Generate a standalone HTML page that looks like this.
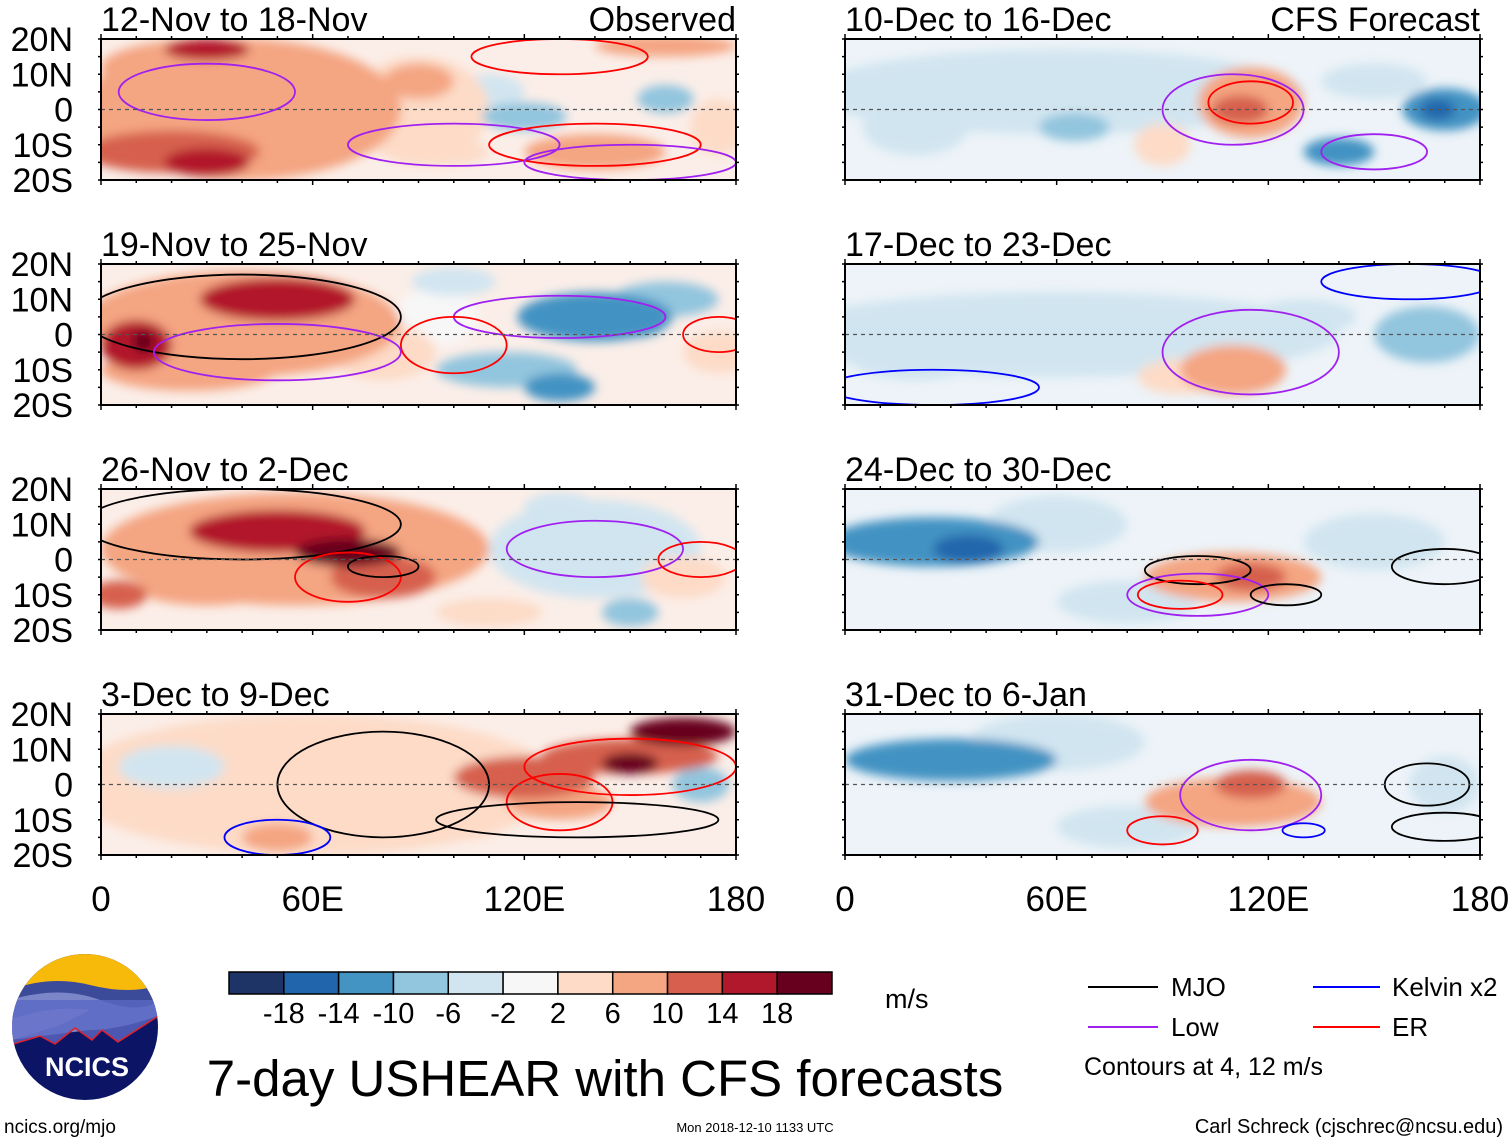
<!DOCTYPE html>
<html><head><meta charset="utf-8">
<style>
body{margin:0;background:#fff;}
svg{display:block;font-family:"Liberation Sans",sans-serif;}
</style></head>
<body>
<svg id="chart" width="1510" height="1142" viewBox="0 0 1510 1142" xmlns="http://www.w3.org/2000/svg">
<defs>
<filter id="blur" x="-20%" y="-50%" width="140%" height="200%"><feGaussianBlur stdDeviation="5"/></filter>
<clipPath id="cp0"><rect x="0" y="0" width="635" height="141"/></clipPath>
</defs>
<g id="panels"></g>
<g id="legend-area">
  <g>
    <clipPath id="logoclip"><circle cx="85" cy="1027" r="73"/></clipPath>
    <g clip-path="url(#logoclip)">
      <rect x="10" y="950" width="150" height="160" fill="#0c1466"/>
      <rect x="10" y="950" width="150" height="45" fill="#f7b90a"/>
      <path d="M10 990 Q50 975 90 985 T160 985 L160 1010 L10 1010Z" fill="#3c4a9a"/>
      <path d="M10 1000 Q60 985 100 1000 T160 1000 L160 1015 Q120 1030 90 1030 L10 1040Z" fill="#7b86c9"/>
      <path d="M10 1020 Q50 1005 90 1010 L60 1025 Q30 1035 10 1040Z" fill="#a9b1e0"/>
      <path d="M10 1045 L40 1035 L55 1044 L75 1028 L92 1040 L102 1030 L118 1042 L160 1015 L160 1000 L10 1000Z" fill="#5b68c4" opacity="0.8"/>
      <polyline points="10,1045 40,1036 55,1044 75,1028 92,1040 102,1030 118,1042 160,1015" fill="none" stroke="#e0202a" stroke-width="1.5"/>
    </g>
    <text x="87" y="1076" text-anchor="middle" font-size="27" font-weight="bold" fill="#fff">NCICS</text>
  </g>
  <g id="colorbar"></g>
  <text x="885" y="1008" font-size="27">m/s</text>
  <g><line x1="1088" y1="987" x2="1158" y2="987" stroke="#000" stroke-width="2"/><text x="1171" y="996" font-size="26">MJO</text></g>
  <g><line x1="1088" y1="1027" x2="1158" y2="1027" stroke="#a020f0" stroke-width="2"/><text x="1171" y="1036" font-size="26">Low</text></g>
  <g><line x1="1313" y1="987" x2="1380" y2="987" stroke="#0000ff" stroke-width="2"/><text x="1392" y="996" font-size="26">Kelvin x2</text></g>
  <g><line x1="1313" y1="1027" x2="1380" y2="1027" stroke="#ff0000" stroke-width="2"/><text x="1392" y="1036" font-size="26">ER</text></g>
  <text x="1084" y="1075" font-size="25">Contours at 4, 12 m/s</text>
  <text x="605" y="1096" text-anchor="middle" font-size="51">7-day USHEAR with CFS forecasts</text>
  <text x="4" y="1133" font-size="19">ncics.org/mjo</text>
  <text x="755" y="1132" text-anchor="middle" font-size="13">Mon 2018-12-10 1133 UTC</text>
  <text x="1503" y="1133" text-anchor="end" font-size="20">Carl Schreck (cjschrec@ncsu.edu)</text>
</g>
</svg>
<script>
const NS="http://www.w3.org/2000/svg";
const levels=[-18,-14,-10,-6,-2,2,6,10,14,18];
const colors=["#1e3366","#2166ac","#4393c3","#92c5de","#d1e5f0","#f7f7f7","#fddbc7","#f4a582","#d6604d","#b2182b","#67001f"];
const titles=["12-Nov to 18-Nov","19-Nov to 25-Nov","26-Nov to 2-Dec","3-Dec to 9-Dec","10-Dec to 16-Dec","17-Dec to 23-Dec","24-Dec to 30-Dec","31-Dec to 6-Jan"];
const latTicks=["20N","10N","0","10S","20S"];
const lonTicks=["0","60E","120E","180"];
// blobs: [lon, lat, value, lonRadius, latRadius]
const blobs0=[[40,0,7,45,20],[90,0,4,20,15],[30,12,10,30,8],[30,17,15,12,3],[20,-12,12,25,6],[30,-15,16,12,4],[10,5,8,12,8],[70,-3,8,12,7],[90,8,7,10,5],[120,-2,-7,12,4],[110,5,-3,10,5],[160,3,-9,8,4],[160,18,10,20,3],[140,-12,7,20,5],[95,-12,3,15,4],[175,-5,3,8,8]];
const blobs1=[[40,3,10,45,15],[50,10,16,22,6],[10,-3,16,10,7],[12,-2,19,3,3],[25,-10,10,25,6],[80,-5,6,15,8],[95,5,2,12,8],[140,5,-10,22,7],[150,3,-12,10,4],[115,-10,-8,20,5],[130,-15,-10,10,4],[160,10,-6,15,5],[175,-5,4,10,6],[100,15,-2,12,4]];
const blobs2=[[55,3,10,55,16],[50,8,16,25,6],[70,2,19,15,4],[80,-5,13,15,6],[30,-8,10,20,5],[5,-10,13,8,4],[140,3,-3,30,14],[150,-15,-9,8,4],[165,-5,4,12,6],[130,15,-5,10,4],[110,-15,4,15,4]];
const blobs3=[[60,0,4,70,20],[150,8,14,25,5],[165,15,19,15,4],[150,6,19,8,3],[120,2,11,20,6],[130,-5,7,15,5],[50,-15,10,10,4],[20,5,-4,15,6],[170,0,-9,8,5],[80,10,-3,15,6],[100,-10,3,15,6]];
const blobs4=[[60,5,-4,70,12],[20,-5,-5,15,8],[115,2,8,15,10],[112,0,12,8,4],[170,0,-12,12,6],[168,0,-17,5,3],[140,-12,-10,10,4],[65,-5,-8,10,4],[150,8,-5,15,5],[90,-10,4,8,6]];
const blobs5=[[60,0,-3,80,12],[110,-10,8,15,7],[95,-12,5,12,5],[165,0,-7,15,8],[20,-5,-4,20,8],[130,5,-3,15,5]];
const blobs6=[[25,5,-10,30,7],[35,3,-14,10,4],[60,10,-5,20,8],[110,-5,8,25,7],[115,-5,12,10,4],[150,5,-3,20,8],[80,-12,-3,20,6]];
const blobs7=[[30,7,-10,30,6],[40,5,-13,10,3],[60,12,-5,25,8],[110,-5,8,25,7],[115,0,11,10,4],[170,0,-4,10,8],[80,-12,-3,20,6]];
const panelBlobs=[blobs0,blobs1,blobs2,blobs3,blobs4,blobs5,blobs6,blobs7];
// contours: [lon, lat, lonRadius, latRadius, type]
const contours=[
 [[30,5,25,8,"low"],[100,-10,30,6,"low"],[130,15,25,5,"er"],[140,-10,30,6,"er"],[150,-15,30,5,"low"]],
 [[40,5,45,12,"mjo"],[130,5,30,6,"low"],[100,-3,15,8,"er"],[175,0,10,5,"er"],[50,-5,35,8,"low"]],
 [[40,10,45,10,"mjo"],[140,3,25,8,"low"],[70,-5,15,7,"er"],[170,0,12,5,"er"],[80,-2,10,3,"mjo"]],
 [[80,0,30,15,"mjo"],[150,5,30,8,"er"],[130,-5,15,8,"er"],[135,-10,40,5,"mjo"],[50,-15,15,5,"kelvin"]],
 [[115,2,12,6,"er"],[110,0,20,10,"low"],[150,-12,15,5,"low"]],
 [[115,-5,25,12,"low"],[25,-15,30,5,"kelvin"],[160,15,25,5,"kelvin"]],
 [[100,-3,15,4,"mjo"],[100,-10,20,6,"low"],[95,-10,12,4,"er"],[170,-2,15,5,"mjo"],[125,-10,10,3,"mjo"]],
 [[115,-3,20,10,"low"],[90,-13,10,4,"er"],[170,-12,15,4,"mjo"],[165,0,12,6,"mjo"],[130,-13,6,2,"kelvin"]]
];
const ccol={mjo:"#000",low:"#a020f0",er:"#ff0000",kelvin:"#0000ff"};
const W=635,H=141;
const xs=[101,845], ys=[39,264,489,714];
function colorOf(v){let i=0;while(i<levels.length&&v>levels[i])i++;return colors[i];}
const root=document.getElementById('panels');
for(let p=0;p<8;p++){
  const col=p<4?0:1,row=p%4;
  const x0=xs[col],y0=ys[row];
  const xl=lon=>lon/180*W, yl=lat=>(20-lat)/40*H;
  const g=document.createElementNS(NS,'g');
  
  
  g.setAttribute('transform',`translate(${x0},${y0})`);
  root.appendChild(g);
  const inner=document.createElementNS(NS,'g');inner.setAttribute('clip-path','url(#cp0)');g.appendChild(inner);
  const bg=document.createElementNS(NS,'rect');bg.setAttribute('width',W);bg.setAttribute('height',H);bg.setAttribute('fill',p<4?'#fbeee8':'#edf3f8');inner.appendChild(bg);
  const bl=document.createElementNS(NS,'g');bl.setAttribute('filter','url(#blur)');inner.appendChild(bl);
  const sorted=panelBlobs[p].slice().sort((a,b)=>Math.abs(a[2])-Math.abs(b[2]));
  sorted.forEach(b=>{
    const e=document.createElementNS(NS,'ellipse');
    
    
    e.setAttribute('cx',xl(b[0]));e.setAttribute('cy',yl(b[1]));
    e.setAttribute('rx',xl(b[3]));e.setAttribute('ry',b[4]/40*H);
    e.setAttribute('fill',colorOf(b[2]));bl.appendChild(e);
  });
  contours[p].forEach(c=>{
    const e=document.createElementNS(NS,'ellipse');
    
    
    e.setAttribute('cx',xl(c[0]));e.setAttribute('cy',yl(c[1]));
    e.setAttribute('rx',xl(c[2]));e.setAttribute('ry',c[3]/40*H);
    e.setAttribute('fill','none');e.setAttribute('stroke',ccol[c[4]]);e.setAttribute('stroke-width','1.8');inner.appendChild(e);
  });
  const eq=document.createElementNS(NS,'line');
  
  eq.setAttribute('x1',0);eq.setAttribute('x2',W);eq.setAttribute('y1',yl(0));eq.setAttribute('y2',yl(0));
  eq.setAttribute('stroke','#555');eq.setAttribute('stroke-dasharray','4,4');eq.setAttribute('stroke-width','1.2');inner.appendChild(eq);
  const fr=document.createElementNS(NS,'rect');
  
  fr.setAttribute('width',W);fr.setAttribute('height',H);fr.setAttribute('fill','none');fr.setAttribute('stroke','#000');fr.setAttribute('stroke-width','2');g.appendChild(fr);
  for(let lon=0;lon<=180;lon+=10){
    const big=lon%60===0;
    [[0,big?-5:-3],[H,big?5:3]].forEach(([yy,d])=>{const t=document.createElementNS(NS,'line');t.setAttribute('x1',xl(lon));t.setAttribute('x2',xl(lon));t.setAttribute('y1',yy);t.setAttribute('y2',yy+d);t.setAttribute('stroke','#000');t.setAttribute('stroke-width','1.5');g.appendChild(t);});
  }
  for(let lat=-20;lat<=20;lat+=5){
    [[0,-3],[W,3]].forEach(([xx,d])=>{const t=document.createElementNS(NS,'line');t.setAttribute('y1',yl(lat));t.setAttribute('y2',yl(lat));t.setAttribute('x1',xx);t.setAttribute('x2',xx+d);t.setAttribute('stroke','#000');t.setAttribute('stroke-width','1.5');g.appendChild(t);});
  }
  const tt=document.createElementNS(NS,'text');
  
  tt.setAttribute('x',0);tt.setAttribute('y',-8);tt.setAttribute('font-size','34');tt.textContent=titles[p];g.appendChild(tt);
  if(row===0){const tr=document.createElementNS(NS,'text');tr.setAttribute('x',W);tr.setAttribute('y',-8);tr.setAttribute('font-size','34');tr.setAttribute('text-anchor','end');tr.textContent=col===0?'Observed':'CFS Forecast';g.appendChild(tr);}
  if(col===0){latTicks.forEach((s,i)=>{const t=document.createElementNS(NS,'text');t.setAttribute('x',-28);t.setAttribute('y',yl(20-i*10)+12);t.setAttribute('font-size','34');t.setAttribute('text-anchor','end');t.textContent=s;g.appendChild(t);});}
  if(row===3){lonTicks.forEach((s,i)=>{const t=document.createElementNS(NS,'text');t.setAttribute('x',xl(i*60));t.setAttribute('y',H+56);t.setAttribute('font-size','35');t.setAttribute('text-anchor','middle');t.textContent=s;g.appendChild(t);});}
}
// colorbar
const cb=document.getElementById('colorbar');
const cbx=229,cbw=603,cby=972,cbh=22,bw=cbw/colors.length;
colors.forEach((c,i)=>{const r=document.createElementNS(NS,'rect');

r.setAttribute('x',cbx+i*bw);r.setAttribute('y',cby);r.setAttribute('width',bw);r.setAttribute('height',cbh);r.setAttribute('fill',c);r.setAttribute('stroke','#000');r.setAttribute('stroke-width','1.5');cb.appendChild(r);});
levels.forEach((v,i)=>{const t=document.createElementNS(NS,'text');

t.setAttribute('x',cbx+(i+1)*bw);t.setAttribute('y',1023);t.setAttribute('font-size','29');t.setAttribute('text-anchor','middle');t.textContent=v;cb.appendChild(t);});
</script>
</body></html>
